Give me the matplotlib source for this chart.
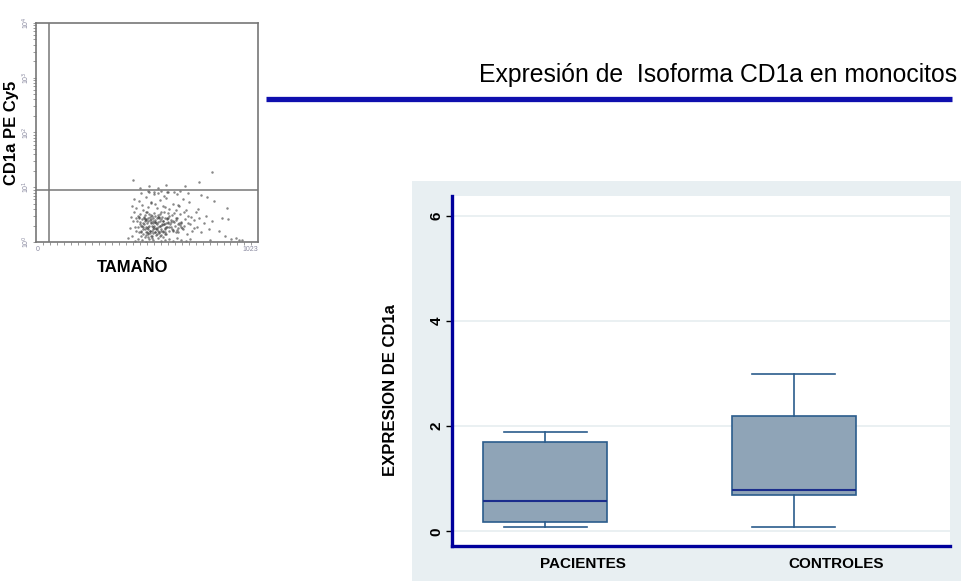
import matplotlib.pyplot as plt
from matplotlib.patches import Rectangle
from matplotlib.lines import Line2D

plt.rcParams['font.family'] = ['Liberation Sans', 'DejaVu Sans']

# flow cytometry events: size channel (0-1023) and CD1a PE-Cy5 intensity
tamano = [
    472, 488, 495, 503, 510, 517, 524, 531, 538, 545, 552, 559, 566, 573, 580, 587, 594, 601, 608, 615,
    479, 486, 492, 499, 506, 513, 520, 527, 534, 541, 548, 555, 562, 569, 576, 583, 590, 597, 604, 611,
    466, 474, 483, 491, 500, 508, 515, 522, 529, 536, 543, 550, 557, 564, 571, 578, 585, 592, 599, 606,
    476, 485, 494, 502, 509, 517, 526, 533, 540, 547, 554, 561, 568, 575, 582, 589, 596, 603, 620, 628,
    462, 468, 480, 497, 505, 518, 530, 546, 560, 572,
    455, 470, 490, 505, 520, 540, 560, 575, 595, 612, 630, 650, 668, 690, 710, 500, 535, 585,
    460, 475, 490, 505, 515, 528, 542, 556, 570, 585, 600, 615, 630, 645, 660, 675, 690, 705,
    482, 520, 560, 610, 650, 700, 548, 592,
    640, 648, 655, 662, 670, 678, 686, 694, 702, 710, 718, 726, 735, 744, 752, 762, 772, 785,
    798, 812, 636, 652, 666, 684, 698, 715, 730, 748,
    432, 438, 444, 448, 452, 456, 441, 450, 425, 460,
    842, 858, 880, 885, 870, 900, 820, 790, 760, 920, 935, 950, 800,
    445, 520, 600, 688, 811, 750, 560, 480,
    # dense core
    480, 492, 505, 518, 531, 544, 557, 570, 583, 596, 609, 622, 636, 650, 665,
    486, 498, 511, 524, 537, 550, 563, 576, 589, 602, 615, 629, 643, 657, 672,
    475, 489, 502, 515, 528, 541, 554, 567, 580, 593, 606, 619, 633, 647, 680,
    505, 512, 518, 525, 533, 541, 550, 558, 566, 574, 620, 632, 644, 656, 668,
    515, 545, 575, 605, 635, 665, 530, 590, 625, 655,
]
cd1a = [
    1.9, 2.6, 1.4, 3.1, 2.2, 1.7, 2.9, 1.3, 2.4, 3.4, 1.8, 2.7, 1.5, 3.2, 2.1, 1.6, 2.8, 1.4, 2.3, 3.0,
    3.3, 1.6, 2.2, 2.9, 1.5, 3.6, 2.0, 1.45, 3.0, 1.9, 2.5, 1.35, 3.1, 2.0, 2.6, 1.5, 3.5, 1.9, 2.7, 1.6,
    2.4, 1.5, 2.0, 3.8, 1.7, 2.6, 1.25, 3.3, 2.2, 1.6, 2.0, 3.0, 1.7, 2.3, 1.3, 3.6, 2.4, 1.8, 2.2, 3.4,
    2.8, 1.3, 1.9, 2.4, 1.9, 2.8, 1.6, 2.0, 2.7, 1.5, 2.2, 1.9, 2.8, 1.7, 2.9, 2.1, 1.4, 1.9, 2.5, 1.7,
    1.6, 3.0, 2.3, 2.1, 3.5, 2.4, 2.6, 2.3, 1.6, 2.4,
    1.05, 1.15, 1.1, 1.02, 1.12, 1.08, 1.18, 1.04, 1.1, 1.14, 1.06, 1.2, 1.1, 1.05, 1.15, 1.25, 1.2, 1.22,
    4.2, 5.6, 4.8, 6.7, 4.4, 5.2, 7.4, 4.1, 5.9, 4.6, 6.3, 4.0, 5.0, 3.8, 4.5, 6.0, 3.9, 5.3,
    7.9, 8.3, 7.8, 8.2, 7.6, 8.0, 4.9, 4.3,
    2.0, 2.8, 1.5, 3.2, 2.3, 1.7, 2.6, 1.4, 3.0, 2.1, 1.6, 2.5, 3.5, 1.9, 2.7, 1.5, 2.2, 3.0,
    1.7, 2.4, 3.4, 2.1, 1.9, 3.6, 2.2, 2.9, 1.8, 4.0,
    1.8, 2.9, 1.3, 2.4, 3.5, 1.9, 4.5, 6.2, 1.2, 2.7,
    1.6, 2.8, 4.1, 2.6, 1.3, 1.15, 5.5, 6.5, 7.2, 1.2, 1.1, 1.08, 1.1,
    13.4, 10.5, 11.0, 10.6, 18.7, 12.5, 9.6, 9.5,
    2.1, 1.7, 2.5, 1.9, 2.3, 1.8, 2.15, 1.95, 2.45, 1.75, 2.2, 1.85, 2.35, 1.65, 2.05,
    1.55, 2.75, 1.8, 2.55, 1.7, 2.3, 2.85, 1.6, 2.1, 2.65, 1.9, 2.4, 1.55, 2.2, 1.8,
    2.9, 2.0, 2.6, 1.45, 3.15, 2.25, 1.75, 2.85, 2.05, 1.55, 2.7, 2.15, 1.65, 2.5, 1.95,
    1.35, 1.5, 1.4, 1.6, 1.3, 1.45, 1.55, 1.38, 1.48, 1.32, 2.3, 1.6, 2.7, 1.8, 2.2,
    8.4, 8.2, 8.5, 8.3, 8.1, 8.4, 5.4, 6.8, 3.1, 4.7,
]
gate_x = 60
gate_y = 8.8

# box plot summary of CD1a expression
grupos = ['PACIENTES', 'CONTROLES']
whis_lo = [0.09, 0.09]
q1 = [0.18, 0.69]
mediana = [0.57, 0.79]
q3 = [1.70, 2.19]
whis_hi = [1.89, 3.00]

fig = plt.figure(figsize=(9.61, 5.81), dpi=100)

# dot plot
ax1 = fig.add_axes([0.0375, 0.5835, 0.231, 0.377])
ax1.scatter(tamano, cd1a, s=3.2, c='#3a3a3a', alpha=0.6, linewidths=0)
ax1.axvline(gate_x, color='#777777', lw=1.1)
ax1.axhline(gate_y, color='#777777', lw=1.1)
ax1.set_yscale('log')
ax1.set_xlim(0, 1023)
ax1.set_ylim(1, 10000)
for s in ax1.spines.values():
    s.set_color('#777777')
    s.set_linewidth(1.2)
ax1.set_yticks([1, 10, 100, 1000, 10000])
ax1.set_yticklabels(['10$^0$', '10$^1$', '10$^2$', '10$^3$', '10$^4$'],
                    rotation=90, va='center', fontsize=5, color='#8a8aa0')
ax1.set_xticks([0, 1023])
ax1.set_xticklabels(['0', '1023'], fontsize=5, color='#8a8aa0')
ax1.get_xticklabels()[0].set_ha('left')
ax1.get_xticklabels()[1].set_ha('right')
ax1.xaxis.set_minor_locator(plt.MultipleLocator(32))
ax1.tick_params(which='both', direction='out', length=2, width=0.6, color='#888888', pad=1)
ax1.tick_params(axis='x', which='major', length=0, pad=3)
ax1.set_xlabel('TAMAÑO', fontsize=12, fontweight='bold')
ax1.xaxis.set_label_coords(0.437, -0.08, transform=ax1.transAxes)
ax1.xaxis.label.set_va('top')
ax1.set_ylabel('CD1a PE Cy5', fontsize=12, fontweight='bold', labelpad=1)

# title with blue rule
fig.text(0.996, 1 - 75 / 581, 'Expresión de  Isoforma CD1a en monocitos',
         ha='right', va='center', fontsize=17.8)
fig.add_artist(Line2D([266 / 961, 952 / 961], [1 - 99 / 581, 1 - 99 / 581],
                      color='#0f0fae', lw=3.8, solid_capstyle='butt'))

# box plot panel background
fig.add_artist(Rectangle((412 / 961, 0), 549 / 961, 1 - 181 / 581,
                         facecolor='#e8eff2', edgecolor='none', zorder=0))

ax2 = fig.add_axes([452 / 961, 1 - 546 / 581, 498 / 961, 350 / 581])
stats = []
for i in range(len(grupos)):
    stats.append({'whislo': whis_lo[i], 'q1': q1[i], 'med': mediana[i],
                  'q3': q3[i], 'whishi': whis_hi[i], 'fliers': []})
ax2.bxp(stats, positions=[1, 2], widths=0.5, capwidths=0.335, patch_artist=True,
        showfliers=False, manage_ticks=False,
        boxprops=dict(facecolor='#8fa4b7', edgecolor='#2b5c8c', linewidth=1.2),
        medianprops=dict(color='#1b2d8c', linewidth=1.5),
        whiskerprops=dict(color='#2b5c8c', linewidth=1.2),
        capprops=dict(color='#2b5c8c', linewidth=1.2))
ax2.set_xlim(0.625, 2.629)
ax2.set_ylim(-0.28, 6.38)
ax2.set_yticks([0, 2, 4, 6])
ax2.set_yticklabels(['0', '2', '4', '6'], rotation=90, va='center',
                    fontsize=11, fontweight='bold')
ax2.grid(axis='y', color='#e6edf0', lw=1.2)
ax2.set_axisbelow(True)
ax2.set_xticks([1.15, 2.17])
ax2.set_xticklabels(grupos, fontsize=11, fontweight='bold')
ax2.tick_params(axis='x', length=0, pad=8)
ax2.tick_params(axis='y', length=4, width=1, color='black', pad=2)
for side in ['top', 'right']:
    ax2.spines[side].set_visible(False)
for side in ['left', 'bottom']:
    ax2.spines[side].set_color('#00009c')
    ax2.spines[side].set_linewidth(2.4)
ax2.set_ylabel('EXPRESION DE CD1a', fontsize=12, fontweight='bold')
ax2.yaxis.set_label_coords(-0.108, 0.446)

fig.savefig('out.png', dpi=100)
